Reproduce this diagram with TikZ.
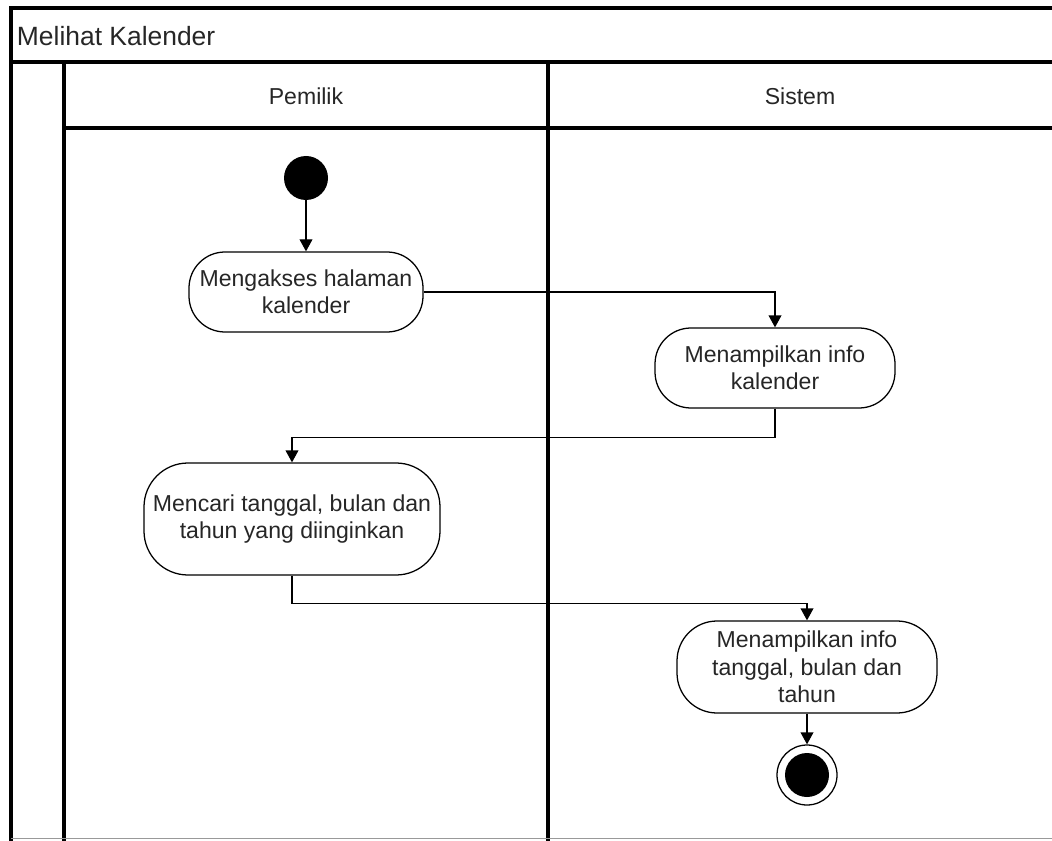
\documentclass[tikz,border=0pt]{standalone}
\usepackage{fontspec}
\setmainfont{Liberation Sans}
\usepackage{tikz}
\usetikzlibrary{arrows.meta, positioning}

\begin{document}
\begin{tikzpicture}[
  action/.style={rectangle, draw, line width=0.9pt, rounded corners=0.9cm, minimum height=2cm, align=center, font=\fontsize{16.4}{19.5}\selectfont, text=black!85},
  lane/.style={line width=3pt},
  flow/.style={-{Triangle[length=0.3cm, width=0.32cm]}, line width=0.9pt},
  initial/.style={circle, fill=black, minimum size=1.1cm, inner sep=0pt},
  final/.style={circle, draw, line width=0.9pt, fill=white, minimum size=1.5cm, inner sep=0pt, path picture={\fill[black] (path picture bounding box.center) circle (0.55cm);}}
]
  \useasboundingbox (0,0) rectangle (26.3,21);

  % swimlanes
  \draw[lane] (0.275,-0.2) -- (0.275,20.8) -- (26.6,20.8);
  \draw[lane] (0.275,19.45) -- (26.6,19.45);
  \draw[lane] (1.6,-0.2) -- (1.6,19.45);
  \draw[lane] (1.6,17.8) -- (26.6,17.8);
  \draw[lane] (13.7,-0.2) -- (13.7,19.45);
  \draw[black!40, line width=0.5pt] (0.275,0.03) -- (26.6,0.03);

  \node[anchor=west, font=\fontsize{18.8}{22}\selectfont, text=black!85] (judul) at (0.3,20.1) {Melihat Kalender};
  \node[font=\fontsize{16.4}{19.5}\selectfont, text=black!85] (pemilik) at (7.65,18.6) {Pemilik};
  \node[font=\fontsize{16.4}{19.5}\selectfont, text=black!85] (sistem) at (20,18.6) {Sistem};

  % activities
  \node[initial] (mulai) at (7.65,16.55) {};
  \node[action, minimum width=5.85cm] (akses) at (7.65,13.7) {Mengakses halaman\\kalender};
  \node[action, minimum width=6cm] (infokal) at (19.375,11.8) {Menampilkan info\\kalender};
  \node[action, minimum width=7.4cm, minimum height=2.8cm, rounded corners=1.1cm] (cari) at (7.3,8.025) {Mencari tanggal, bulan dan\\tahun yang diinginkan};
  \node[action, minimum width=6.5cm, minimum height=2.3cm, rounded corners=1cm] (infotgl) at (20.175,4.325) {Menampilkan info\\tanggal, bulan dan\\tahun};
  \node[final] (selesai) at (20.175,1.625) {};

  \draw[flow] (mulai) -- (akses);
  \draw[flow] (akses.east) -| (infokal.north);
  \draw[flow] (infokal.south) -- ++(0,-0.725) -| (cari.north);
  \draw[flow] (cari.south) -- ++(0,-0.7) -| (infotgl.north);
  \draw[flow] (infotgl) -- (selesai);
\end{tikzpicture}
\end{document}
